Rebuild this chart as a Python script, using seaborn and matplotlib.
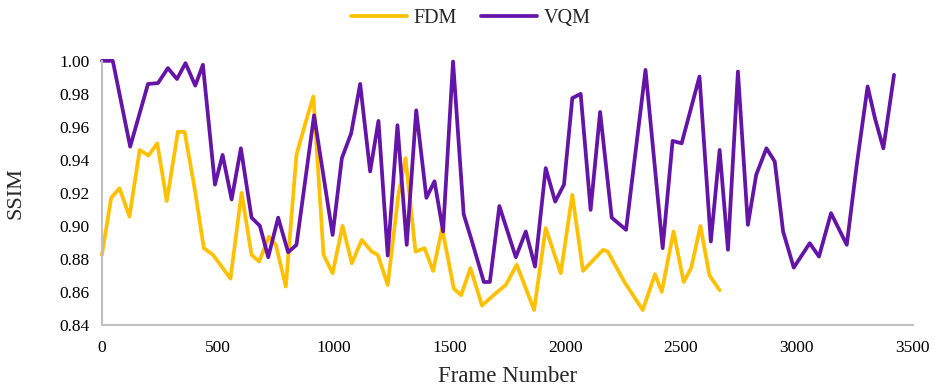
import pandas as pd
import matplotlib
matplotlib.use("Agg")
import matplotlib.pyplot as plt
import seaborn as sns

# 数据：SSIM 值
fdm_frame = [0, 40, 76, 119, 163, 201, 239, 280, 328, 357, 400, 440, 480, 555, 603,
             646, 679, 721, 751, 794, 840, 880, 913, 957, 996, 1039, 1079, 1122, 1165, 1191,
             1234, 1280, 1311, 1354, 1393, 1430, 1469, 1519, 1551, 1591, 1641, 1699, 1744, 1791, 1866,
             1916, 1981, 2031, 2077, 2164, 2184, 2256, 2335, 2388, 2417, 2468, 2512, 2544, 2584, 2623,
             2667]
fdm_ssim = [0.8824, 0.917, 0.9228, 0.9056, 0.946, 0.9426, 0.950, 0.915, 0.957, 0.957,
            0.923, 0.8865, 0.8824, 0.868, 0.920, 0.8824, 0.8784, 0.8935, 0.8885, 0.8632,
            0.943, 0.963, 0.9784, 0.8824, 0.8713, 0.900, 0.8774, 0.8915, 0.8844, 0.8824,
            0.8642, 0.9188, 0.941, 0.8844, 0.8865, 0.8727, 0.8986, 0.862, 0.858, 0.8744,
            0.8517, 0.859, 0.8642, 0.8764, 0.849, 0.8986, 0.8713, 0.9188, 0.8727, 0.8855,
            0.8844, 0.866, 0.849, 0.8707, 0.860, 0.8966, 0.866, 0.8744, 0.900, 0.870,
            0.861]

vqm_frame = [0, 47, 122, 199, 242, 285, 324, 361, 403, 436, 488, 521, 560, 600, 646,
             682, 718, 761, 804, 840, 916, 996, 1036, 1076, 1115, 1158, 1194, 1234, 1276, 1316,
             1357, 1401, 1436, 1473, 1516, 1562, 1598, 1649, 1675, 1716, 1787, 1830, 1870, 1916, 1957,
             1995, 2031, 2067, 2110, 2151, 2201, 2263, 2347, 2421, 2464, 2503, 2580, 2629, 2667, 2703,
             2746, 2789, 2825, 2869, 2905, 2941, 2987, 3056, 3096, 3148, 3216, 3259, 3306, 3338, 3374,
             3420]
vqm_ssim = [1.000, 1.000, 0.948, 0.986, 0.9865, 0.9956, 0.989, 0.9986, 0.985, 0.9976,
            0.925, 0.943, 0.916, 0.947, 0.905, 0.900, 0.881, 0.905, 0.884, 0.8885,
            0.967, 0.8945, 0.941, 0.956, 0.986, 0.933, 0.9636, 0.882, 0.961, 0.8885,
            0.970, 0.917, 0.927, 0.8966, 0.9996, 0.907, 0.8905, 0.866, 0.866, 0.912,
            0.881, 0.8966, 0.8753, 0.935, 0.9147, 0.925, 0.9774, 0.980, 0.9097, 0.969,
            0.905, 0.8976, 0.9945, 0.8865, 0.9515, 0.950, 0.9905, 0.8905, 0.946, 0.8855,
            0.9935, 0.9006, 0.931, 0.947, 0.939, 0.8966, 0.8747, 0.8895, 0.8814, 0.9077,
            0.8885, 0.937, 0.9845, 0.965, 0.947, 0.9915]

x_ticks = [0, 500, 1000, 1500, 2000, 2500, 3000, 3500]
y_ticks = [0.84, 0.86, 0.88, 0.90, 0.92, 0.94, 0.96, 0.98, 1.00]

df = pd.concat([
    pd.DataFrame({'Frame Number': fdm_frame, 'SSIM': fdm_ssim, 'Method': 'FDM'}),
    pd.DataFrame({'Frame Number': vqm_frame, 'SSIM': vqm_ssim, 'Method': 'VQM'}),
], ignore_index=True)

sns.set_style('white')
plt.rcParams['font.family'] = ['Liberation Serif', 'DejaVu Serif']

fig, ax = plt.subplots(figsize=(9.35, 3.9), dpi=100)
fig.subplots_adjust(left=0.109, right=0.976, top=0.844, bottom=0.167)

sns.lineplot(data=df, x='Frame Number', y='SSIM', hue='Method',
             palette={'FDM': '#FFC000', 'VQM': '#6414A6'},
             estimator=None, sort=False, linewidth=2.7, ax=ax)

for line in ax.lines:
    line.set_clip_on(False)
    line.set_solid_joinstyle('round')
    line.set_solid_capstyle('round')

ax.set_xlim(0, 3500)
ax.set_ylim(0.84, 1.00)
ax.set_xticks(x_ticks)
ax.set_yticks(y_ticks)
ax.set_yticklabels([f'{v:.2f}' for v in y_ticks])
ax.tick_params(axis='both', length=0, labelsize=12.5, colors='#000000')
ax.tick_params(axis='x', pad=11)
ax.tick_params(axis='y', pad=9)

for side in ['top', 'right']:
    ax.spines[side].set_visible(False)
for side in ['left', 'bottom']:
    ax.spines[side].set_color('#BFBFBF')
    ax.spines[side].set_linewidth(1.5)

ax.set_xlabel('Frame Number', fontsize=16.5, labelpad=7)
ax.set_ylabel('SSIM', fontsize=16, labelpad=24)

ax.legend(loc='upper center', bbox_to_anchor=(0.455, 1.265), ncol=2, frameon=False,
          fontsize=14.5, handlelength=2.8, handletextpad=0.3, columnspacing=1.2)

plt.savefig('out.png', dpi=100)
